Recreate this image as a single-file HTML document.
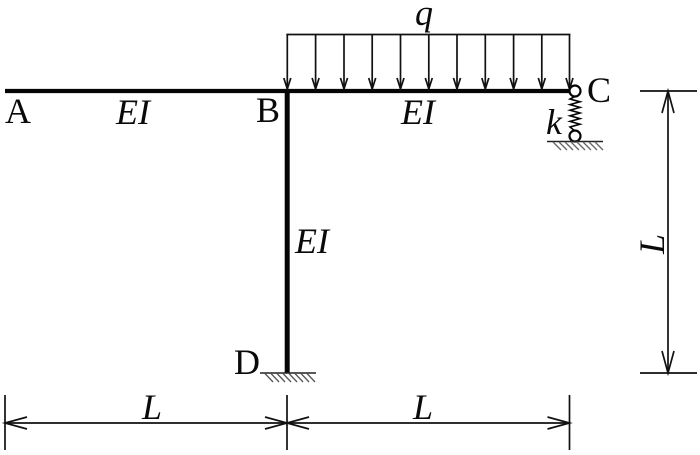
<!DOCTYPE html>
<html>
<head>
<meta charset="utf-8">
<style>
html,body{margin:0;padding:0;background:#fff;width:700px;height:455px;overflow:hidden}
svg{display:block}
text{font-family:"Liberation Serif",serif;fill:#0a0a0a;font-size:36px}
.i{font-style:italic}
</style>
</head>
<body>
<svg width="700" height="455" viewBox="0 0 700 455" xmlns="http://www.w3.org/2000/svg">
<rect width="700" height="455" fill="#fff"/>
<!-- frame -->
<path d="M5 91H570" stroke="#050505" stroke-width="4.200" fill="none"/>
<path d="M287.200 89V373" stroke="#050505" stroke-width="5" fill="none"/>
<!-- distributed load -->
<g stroke="#111" stroke-width="1.700" fill="none">
<path d="M286.300 34.500H570.500"/>
<path d="M287.300 34.500V89M315.600 34.500V89M344 34.500V89M372.200 34.500V89M400.500 34.500V89M428.800 34.500V89M457 34.500V89M485.300 34.500V89M513.600 34.500V89M541.800 34.500V89M569.500 34.500V89"/>
<path d="M283.800 78L287.300 89L290.800 78M312.100 78L315.600 89L319.100 78M340.500 78L344 89L347.500 78M368.700 78L372.200 89L375.700 78M397 78L400.500 89L404 78M425.300 78L428.800 89L432.300 78M453.500 78L457 89L460.500 78M481.800 78L485.300 89L488.800 78M510.100 78L513.600 89L517.100 78M538.300 78L541.800 89L545.300 78M566 78L569.500 89L573 78"/>
</g>
<!-- spring -->
<g fill="#fff" stroke="#050505" stroke-width="1.600">
<path d="M575 96.500L570 99L580 101.800L570 104.600L580 107.400L570 110.200L580 113L570 115.800L580 118.600L570 121.400L580 124.200L570 127L575 131" fill="none"/>
<circle cx="575" cy="91" r="5.500" stroke-width="2.200"/>
<circle cx="575" cy="136" r="5.500" stroke-width="2.200"/>
</g>
<!-- support at C -->
<path d="M547 141.500H603" stroke="#222" stroke-width="1.600" fill="none"/>
<path d="M553 142L561 150M559 142L567 150M565 142L573 150M571 142L579 150M577 142L585 150M583 142L591 150M589 142L597 150M595 142L603 150" stroke="#666" stroke-width="1.300" fill="none"/>
<!-- support at D -->
<path d="M260 373H316" stroke="#222" stroke-width="1.600" fill="none"/>
<path d="M265 373.500L273 382M271 373.500L279 382M277 373.500L285 382M283 373.500L291 382M289 373.500L297 382M295 373.500L303 382M301 373.500L309 382M307 373.500L315 382" stroke="#555" stroke-width="1.300" fill="none"/>
<!-- dimensions -->
<g stroke="#111" stroke-width="1.700" fill="none">
<path d="M5 395V450M287 395V450M569.500 395V450"/>
<path d="M5 423H569.500"/>
<path d="M27 417L5 423L27 429M265 417L287 423L265 429M309 417L287 423L309 429M547.500 417L569.500 423L547.500 429"/>
<path d="M640 91H697M640 373H697"/>
<path d="M668 91V373"/>
<path d="M662 113L668 91L674 113M662 351L668 373L674 351"/>
</g>
<!-- labels -->
<text x="5" y="123">A</text>
<text x="256" y="122">B</text>
<text x="587" y="102">C</text>
<text x="234" y="374">D</text>
<text class="i" x="116" y="124">EI</text>
<text class="i" x="401" y="124">EI</text>
<text class="i" x="295" y="253">EI</text>
<text class="i" x="415" y="25">q</text>
<text class="i" x="546" y="134">k</text>
<text class="i" x="142" y="419">L</text>
<text class="i" x="413" y="419">L</text>
<text class="i" transform="translate(664 254) rotate(-90)">L</text>
</svg>
</body>
</html>
